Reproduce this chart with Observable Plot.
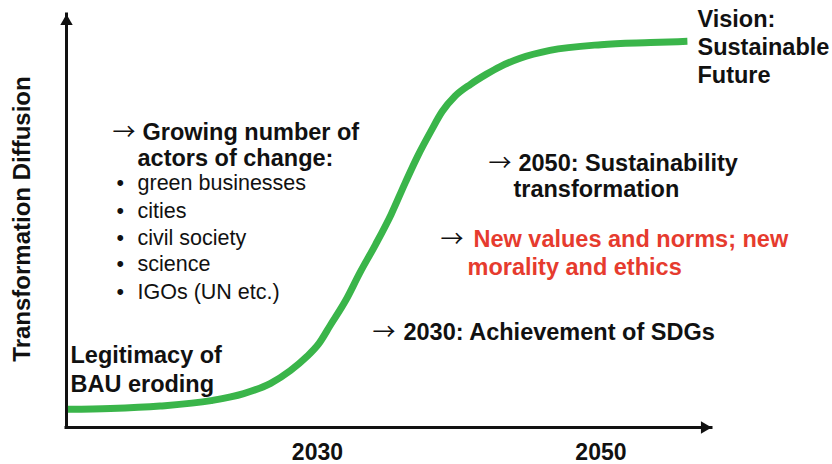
<!DOCTYPE html>
<html>
<head>
<meta charset="utf-8">
<script src="https://cdn.jsdelivr.net/npm/d3@7"></script>
<script src="https://cdn.jsdelivr.net/npm/@observablehq/plot@0.6"></script>
<style>
  html, body { margin: 0; padding: 0; background: #fff; }
  #chart svg { display: block; }
</style>
</head>
<body>
<div id="chart"></div>
<script>
// ---- data ----
const xDomain = [2012.3, 2057.8];
const yDomain = [0, 100];
const tickYears = [2030, 2050];
const yAxisLabel = "Transformation Diffusion";

const curveYears  = [2012.4, 2015.4, 2018.9, 2022.5, 2024.8, 2026.7, 2028.1, 2029.2, 2030.1, 2030.9, 2032.0, 2033.0, 2034.1, 2035.2, 2036.2, 2037.1, 2038.0, 2038.8, 2039.7, 2040.8, 2041.9, 2042.9, 2044.3, 2046.4, 2050.0, 2053.5, 2056.1];
const curveLevels = [4.4,    4.6,    5.2,    6.5,    8.2,    10.7,   13.8,   17.0,   20.3,   24.7,   30.8,   37.5,   44.3,   51.6,   59.3,   65.9,   71.7,   76.5,   80.2,   83.1,   85.5,   87.4,   89.4,   91.3,   92.7,   93.2,   93.5];

const blackLabels = [
  {text: "Growing number of",          year: 2017.66, level: 69.7},
  {text: "actors of change:",          year: 2017.31, level: 63.2},
  {text: "Legitimacy of",              year: 2012.58, level: 15.7},
  {text: "BAU eroding",                year: 2012.58, level: 8.7},
  {text: "Vision:",                    year: 2056.81, level: 96.9},
  {text: "Sustainable",                year: 2056.81, level: 90.1},
  {text: "Future",                     year: 2056.81, level: 83.5},
  {text: "2050: Sustainability",       year: 2044.18, level: 62.2},
  {text: "transformation",             year: 2043.83, level: 55.9},
  {text: "2030: Achievement of SDGs",  year: 2036.07, level: 21.1}
];
const redLabels = [
  {text: "New values and norms; new",  year: 2041.01, level: 43.6},
  {text: "morality and ethics",        year: 2040.59, level: 37.0}
];
const arrowAnchors = [
  {year: 2015.54, level: 69.7},
  {year: 2042.07, level: 62.2},
  {year: 2038.68, level: 43.6},
  {year: 2033.89, level: 21.1}
];
const actors = ["green businesses", "cities", "civil society", "science", "IGOs (UN etc.)"];
const actorLevels = [57.4, 50.8, 44.3, 37.8, 31.2];
const bulletYear = 2015.83;
const actorYear = 2017.31;

// ---- build ----
const curve = curveYears.map((year, i) => ({year, level: curveLevels[i]}));
const actorRows = actors.map((text, i) => ({text, level: actorLevels[i]}));

const GREEN = "#3ab54a";
const RED = "#e63b2e";
const INK = "#111";
const BOLD = 23.5;

const chart = Plot.plot({
  width: 832,
  height: 464,
  marginLeft: 66,
  marginRight: 121,
  marginTop: 14,
  marginBottom: 37,
  x: {domain: xDomain, axis: null},
  y: {domain: yDomain, axis: null},
  style: {fontFamily: "'Liberation Sans', Arial, sans-serif", background: "#fff", color: INK, overflow: "visible"},
  marks: [
    // axes lines
    Plot.ruleX([xDomain[0]], {stroke: INK, strokeWidth: 3, strokeLinecap: "square"}),
    Plot.ruleY([yDomain[0]], {stroke: INK, strokeWidth: 3, strokeLinecap: "square"}),
    // arrowheads
    Plot.dot([{x: xDomain[0], y: yDomain[1]}], {x: "x", y: "y", symbol: "triangle", r: 4.6, fill: INK, stroke: null, dy: 7}),
    Plot.dot([{x: xDomain[1], y: yDomain[0]}], {x: "x", y: "y", symbol: "triangle", r: 4.6, fill: INK, stroke: null, rotate: 90, dx: -7}),
    // tick labels
    Plot.axisX({ticks: tickYears, tickFormat: d => `${d}`, tickSize: 0, tickPadding: 16, fontSize: 23, fontWeight: "bold", label: null, fill: INK}),
    // y label
    Plot.text([yAxisLabel], {frameAnchor: "left", textAnchor: "middle", rotate: -90, dx: -44, dy: -2, fontSize: 24, fontWeight: "bold", fill: INK}),
    // S-curve
    Plot.line(curve, {x: "year", y: "level", stroke: GREEN, strokeWidth: 7, curve: "monotone-x", strokeLinecap: "butt"}),
    // annotations
    Plot.text(blackLabels, {x: "year", y: "level", text: "text", textAnchor: "start", lineAnchor: "bottom", fontSize: BOLD, fontWeight: "bold", fill: INK}),
    Plot.text(redLabels, {x: "year", y: "level", text: "text", textAnchor: "start", lineAnchor: "bottom", fontSize: BOLD, fontWeight: "bold", fill: RED}),
    Plot.text(arrowAnchors, {x: "year", y: "level", text: () => "\u2192", textAnchor: "start", lineAnchor: "bottom", fontSize: 23, fontFamily: "'Noto Sans CJK SC', 'DejaVu Sans', sans-serif", fill: INK}),
    Plot.text(actorRows, {x: () => bulletYear, y: "level", text: () => "\u2022", textAnchor: "start", lineAnchor: "bottom", fontSize: 21.5, fill: INK}),
    Plot.text(actorRows, {x: () => actorYear, y: "level", text: "text", textAnchor: "start", lineAnchor: "bottom", fontSize: 21.5, fill: INK})
  ]
});
document.getElementById("chart").appendChild(chart);
</script>
</body>
</html>
